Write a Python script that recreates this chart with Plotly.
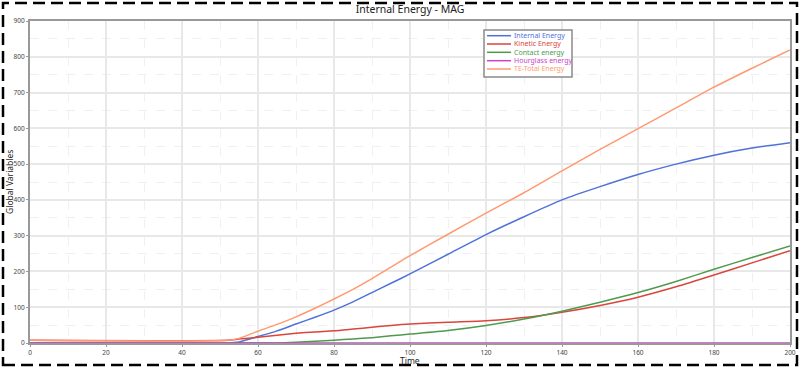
import plotly.graph_objects as go

# ---- data ----
time = [0, 52, 55, 60, 65, 70, 75, 80, 85, 90, 95, 100, 110, 120, 130, 140, 150, 160, 170, 180, 190, 200]
internal = [0, 0, 3, 18, 34, 53, 72, 92, 115, 141, 167, 193, 248, 303, 353, 400, 437, 471, 500, 525, 545, 560]
kinetic = [7.5, 7.5, 11, 16, 22, 27, 31, 34, 39, 44, 49, 53, 58, 62, 71, 86, 105, 128, 157, 190, 224, 258]
contact = [0, 0, 0, 0, 0, 2, 5, 8, 11, 15, 20, 25, 35, 49, 67, 89, 114, 141, 172, 206, 239, 271]
hourglass = [0] * len(time)
total = [7.5, 7.5, 13, 33, 52, 73, 97, 123, 150, 180, 212, 244, 304, 363, 420, 481, 541, 599, 657, 715, 768, 819]

names = ["Internal Energy", "Kinetic Energy", "Contact energy", "Hourglass energy", "TE-Total Energy"]
colors = ["#4f72d9", "#d9463c", "#4f9a4f", "#cc44cc", "#ff9a70"]
series = [internal, kinetic, contact, hourglass, total]

x_ticks = list(range(0, 201, 20))
y_ticks = list(range(0, 901, 100))

fig = go.Figure()
for nm, col, ys in zip(names, colors, series):
    fig.add_trace(go.Scatter(x=time, y=ys, mode="lines", name=nm,
                             line=dict(color=col, width=1.5, shape="spline", smoothing=0.6),
                             showlegend=False))

W, H = 800, 368
L, R, T, B = 30, 10, 21, 25
pw, ph = W - L - R, H - T - B

def px(xp):
    return (xp - L) / pw

def py(yp):
    return (H - B - yp) / ph

shapes = []
annotations = []
# figure dashed frame
shapes.append(dict(type="rect", xref="paper", yref="paper",
                   x0=px(3), x1=px(797), y0=py(365), y1=py(3),
                   line=dict(color="black", width=2.5, dash="12px,6px")))
# manual legend
shapes.append(dict(type="rect", xref="paper", yref="paper",
                   x0=px(484), x1=px(572), y0=py(77), y1=py(30),
                   fillcolor="white", line=dict(color="#8a8a8a", width=1.5), layer="above"))
row_y = [35.7, 44.0, 52.3, 60.7, 69.0]
for nm, col, ry in zip(names, colors, row_y):
    shapes.append(dict(type="line", xref="paper", yref="paper",
                       x0=px(487), x1=px(511), y0=py(ry), y1=py(ry),
                       line=dict(color=col, width=1.5), layer="above"))
    annotations.append(dict(xref="paper", yref="paper", x=px(512), y=py(ry),
                            xanchor="left", yanchor="middle", showarrow=False,
                            text=nm, font=dict(color=col, size=7, family="Noto Sans")))

# axis titles
annotations.append(dict(xref="paper", yref="paper", x=px(410), y=py(360.5),
                        xanchor="center", yanchor="middle", showarrow=False,
                        text="Time", font=dict(size=8.5, color="#222", family="Noto Sans")))
annotations.append(dict(xref="paper", yref="paper", x=px(9), y=py(182),
                        xanchor="center", yanchor="middle", showarrow=False, textangle=-90,
                        text="Global Variables", font=dict(size=8.5, color="#222", family="Noto Sans")))

fig.update_layout(
    width=W, height=H,
    margin=dict(l=L, r=R, t=T, b=B, autoexpand=False),
    paper_bgcolor="white", plot_bgcolor="white",
    font=dict(family="Noto Sans", color="#333"),
    title=dict(text="Internal Energy - MAG", x=(L + pw / 2) / W, xanchor="center",
               y=1 - 9 / H, yanchor="middle", font=dict(size=10.5, color="#222")),
    shapes=shapes, annotations=annotations,
)
common = dict(ticks="outside", ticklen=2, tickcolor="#999",
              showline=True, mirror=True, linecolor="#999", linewidth=2,
              showgrid=True, gridcolor="#e8e8e8", gridwidth=1.5, zeroline=False,
              tickfont=dict(size=6.5, color="#444"), automargin=False)
fig.update_xaxes(range=[0, 200], tickvals=x_ticks,
                 minor=dict(dtick=10, showgrid=True, gridcolor="#f0f0f0", griddash="dash", gridwidth=1),
                 **common)
fig.update_yaxes(range=[0, 900], tickvals=y_ticks,
                 minor=dict(dtick=50, showgrid=True, gridcolor="#f0f0f0", griddash="dash", gridwidth=1),
                 **common)

fig.write_html("out.html", config={"displayModeBar": False},
               post_script="document.body.style.margin='0';document.body.style.overflow='hidden';")
